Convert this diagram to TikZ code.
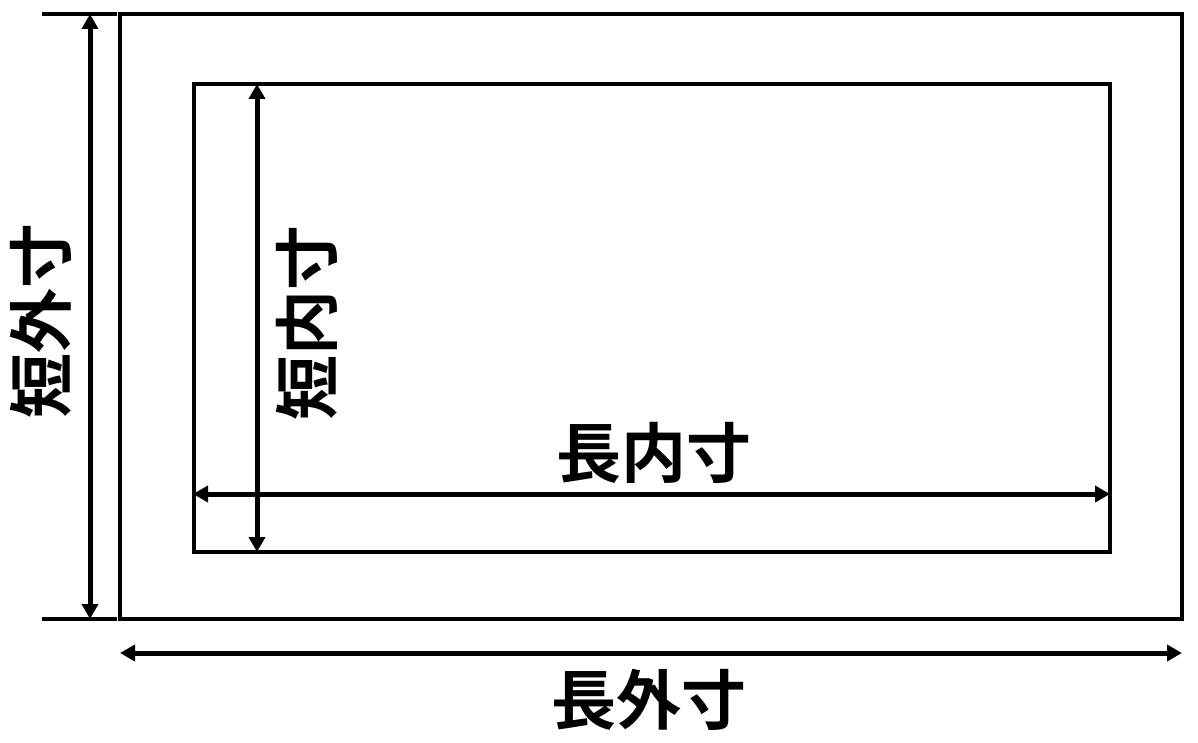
\documentclass[tikz,border=0pt]{standalone}
\usepackage{fontspec}
\newfontfamily\cjk{Noto Sans CJK JP Bold}
\usetikzlibrary{arrows.meta}
\begin{document}
\begin{tikzpicture}[x=1pt,y=-1pt,
  frame/.style={line width=3.5pt},
  dimline/.style={line width=5pt,{Triangle[length=15pt,width=16pt]}-{Triangle[length=15pt,width=16pt]}},
  lbl/.style={font=\cjk\fontsize{65}{65}\selectfont, inner sep=0pt}]
\useasboundingbox (0,0) rectangle (1198,743);
% outer frame
\coordinate (oTL) at (120,14);
\coordinate (oBR) at (1182,619);
\draw[frame] (oTL) rectangle (oBR);
% inner frame
\coordinate (iTL) at (194,84);
\coordinate (iBR) at (1110,552);
\draw[frame] (iTL) rectangle (iBR);
% extension ticks
\coordinate (t1a) at (42,14);  \coordinate (t1b) at (117,14);
\coordinate (t2a) at (42,619); \coordinate (t2b) at (117,619);
\draw[frame] (t1a) -- (t1b);
\draw[frame] (t2a) -- (t2b);
% dimension arrows
\coordinate (sa) at (90,14);   \coordinate (sb) at (90,619);
\draw[dimline] (sa) -- (sb);
\coordinate (la) at (120,653); \coordinate (lb) at (1182,653);
\draw[dimline] (la) -- (lb);
\coordinate (sia) at (257,84); \coordinate (sib) at (257,552);
\draw[dimline] (sia) -- (sib);
\coordinate (lia) at (193,494); \coordinate (lib) at (1110,494);
\draw[dimline] (lia) -- (lib);
% labels
\node[lbl, rotate=90] (shortout) at (41,321) {短外寸};
\node[lbl, rotate=90] (shortin) at (307,323) {短内寸};
\node[lbl] (longin) at (654,453) {長内寸};
\node[lbl] (longout) at (649,700) {長外寸};
\end{tikzpicture}
\end{document}
